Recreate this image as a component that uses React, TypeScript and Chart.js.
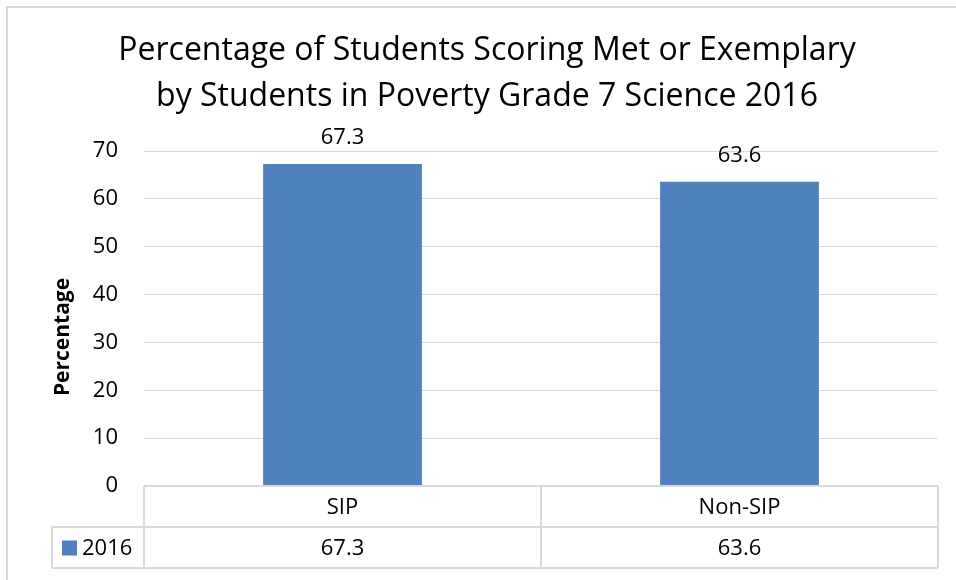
import React, { useEffect, useRef } from "react";
import { Chart, registerables } from "chart.js";

Chart.register(...registerables);

const categories = ["SIP", "Non-SIP"];
const seriesName = "2016";
const values2016 = [67.3, 63.6];
const titleLines = [
  "Percentage of Students Scoring Met or Exemplary",
  "by Students in Poverty Grade 7 Science 2016",
];
const yAxisTitle = "Percentage";
const yMin = 0;
const yMax = 70;
const yStep = 10;

const FONT = "'Open Sans', 'DejaVu Sans', sans-serif";
const BAR_COLOR = "#4F81BD";
const LINE_COLOR = "#D9D9D9";

const decorPlugin = {
  id: "excelDecor",
  beforeDraw(chart: any) {
    const { ctx, width, height } = chart;
    ctx.save();
    ctx.fillStyle = "#ffffff";
    ctx.fillRect(0, 0, width, height);
    ctx.strokeStyle = LINE_COLOR;
    ctx.lineWidth = 2;
    ctx.strokeRect(7, 7, width + 20, height + 20);
    ctx.restore();
  },
  afterDatasetsDraw(chart: any) {
    const { ctx, chartArea } = chart;
    const xScale = chart.scales.x;
    const meta = chart.getDatasetMeta(0);
    ctx.save();
    // data labels
    ctx.fillStyle = "#000";
    ctx.font = `22px ${FONT}`;
    ctx.textAlign = "center";
    ctx.textBaseline = "middle";
    meta.data.forEach((bar: any, i: number) => {
      ctx.fillText(String(values2016[i]), bar.x, bar.y - 26);
    });

    // data table
    const rowH = 41;
    const top = chartArea.bottom;
    const mid = top + rowH;
    const bot = top + 2 * rowH;
    const legendLeft = chartArea.left - 92;
    const n = categories.length;
    const catW = (chartArea.right - chartArea.left) / n;
    ctx.strokeStyle = LINE_COLOR;
    ctx.lineWidth = 2;
    ctx.beginPath();
    ctx.moveTo(chartArea.left, top);
    ctx.lineTo(chartArea.right, top);
    ctx.moveTo(legendLeft, mid);
    ctx.lineTo(chartArea.right, mid);
    ctx.moveTo(legendLeft, bot);
    ctx.lineTo(chartArea.right, bot);
    ctx.moveTo(legendLeft, mid);
    ctx.lineTo(legendLeft, bot);
    for (let i = 0; i <= n; i++) {
      const x = chartArea.left + i * catW;
      ctx.moveTo(x, top);
      ctx.lineTo(x, bot);
    }
    ctx.stroke();

    ctx.fillStyle = "#000";
    ctx.font = `22px ${FONT}`;
    ctx.textAlign = "center";
    ctx.textBaseline = "middle";
    categories.forEach((c, i) => {
      const cx = xScale.getPixelForValue(i);
      ctx.fillText(c, cx, (top + mid) / 2 + 1);
      ctx.fillText(String(values2016[i]), cx, (mid + bot) / 2 + 1);
    });
    // legend key
    ctx.fillStyle = BAR_COLOR;
    ctx.fillRect(legendLeft + 10, (mid + bot) / 2 - 7, 15, 15);
    ctx.fillStyle = "#000";
    ctx.textAlign = "left";
    ctx.fillText(seriesName, legendLeft + 30, (mid + bot) / 2 + 1);

    // y-axis title
    ctx.save();
    ctx.translate(chartArea.left - 81, chartArea.top + 186);
    ctx.rotate(-Math.PI / 2);
    ctx.font = `bold 21px ${FONT}`;
    ctx.textAlign = "center";
    ctx.textBaseline = "middle";
    ctx.fillText(yAxisTitle, 0, 0);
    ctx.restore();

    ctx.restore();
  },
};

export default function App() {
  const canvasRef = useRef<HTMLCanvasElement | null>(null);

  useEffect(() => {
    if (!canvasRef.current) return;
    const chart = new Chart(canvasRef.current, {
      type: "bar",
      data: {
        labels: categories,
        datasets: [
          {
            label: seriesName,
            data: values2016,
            backgroundColor: BAR_COLOR,
            borderWidth: 0,
            barPercentage: 0.4,
            categoryPercentage: 1,
          },
        ],
      },
      options: {
        animation: false,
        responsive: false,
        maintainAspectRatio: false,
        devicePixelRatio: 1,
        layout: { padding: { left: 36, right: 18, top: 0, bottom: 94 } },
        plugins: {
          legend: { display: false },
          tooltip: { enabled: false },
          title: {
            display: true,
            text: titleLines,
            color: "#000",
            font: { family: FONT, size: 32, weight: "normal", lineHeight: 1.4375 },
            padding: { top: 28, bottom: 31 },
          },
        },
        scales: {
          x: {
            display: false,
          },
          y: {
            min: yMin,
            max: yMax,
            ticks: {
              stepSize: yStep,
              color: "#000",
              font: { family: FONT, size: 22 },
              padding: 26,
            },
            grid: { color: LINE_COLOR, lineWidth: 1, drawTicks: false },
            border: { display: false },
            afterFit(scale: any) {
              scale.width = 108;
            },
          },
        },
      },
      plugins: [decorPlugin],
    });
    return () => chart.destroy();
  }, []);

  return (
    <div style={{ position: "absolute", left: 0, top: 0, width: 956, height: 580 }}>
      <canvas ref={canvasRef} width={956} height={580} style={{ width: 956, height: 580 }} />
    </div>
  );
}
